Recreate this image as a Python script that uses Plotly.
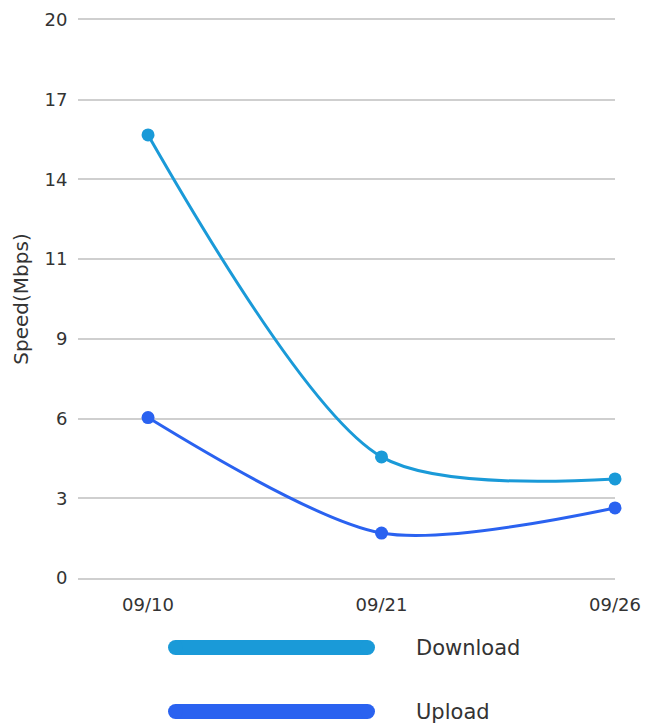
import plotly.graph_objects as go

dates = ["09/10", "09/21", "09/26"]
download = [15.88, 4.34, 3.55]
upload = [5.75, 1.61, 2.51]
y_tick_vals = [i * 20 / 7 for i in range(8)]
y_tick_text = ["0", "3", "6", "9", "11", "14", "17", "20"]
series_names = ["Download", "Upload"]

C_DOWN = "#1a9ad8"
C_UP = "#2a62f0"
FONT = "DejaVu Sans"
TXT = "#333333"
GRID = "#cfcfcf"

fig = go.Figure()
for name, vals, col in [(series_names[0], download, C_DOWN), (series_names[1], upload, C_UP)]:
    fig.add_trace(go.Scatter(
        x=dates, y=vals, name=name, mode="lines+markers",
        line=dict(color=col, width=3, shape="spline", smoothing=0.8),
        marker=dict(color=col, size=13),
        cliponaxis=False, showlegend=False,
    ))

# the page has an 8px body margin at left/top; the page is cropped at 649x725
OFF = 8
W, H = 649 - OFF, 725 - OFF
# plot area in page pixels: x 78..615, y 20..578
PL, PR, PT, PB = 78, 615, 20, 578
L, T = PL - OFF, PT - OFF
R = W - (PR - OFF)
B = H - (PB - OFF)
pw, ph = PR - PL, PB - PT

def px(x):
    return (x - PL) / pw

def py(y):
    return (PB - y) / ph

shapes = []
annotations = []
r = 7.5
x_left, x_right = 168, 375
for i, (name, col) in enumerate(zip(series_names, [C_DOWN, C_UP])):
    cy = 647.5 + i * 64
    shapes.append(dict(
        type="line", xref="paper", yref="paper",
        x0=px(x_left + r), x1=px(x_right - r), y0=py(cy), y1=py(cy),
        line=dict(color=col, width=2 * r),
    ))
    for cx in (x_left + r, x_right - r):
        shapes.append(dict(
            type="circle", xref="paper", yref="paper",
            x0=px(cx - r), x1=px(cx + r), y0=py(cy + r), y1=py(cy - r),
            fillcolor=col, line=dict(width=0),
        ))
    annotations.append(dict(
        text=name, xref="paper", yref="paper", x=px(414), y=py(cy),
        xanchor="left", yanchor="middle", showarrow=False,
        font=dict(family=FONT, size=21, color=TXT),
    ))

fig.update_layout(
    width=W, height=H,
    margin=dict(l=L, r=R, t=T, b=B, autoexpand=False),
    paper_bgcolor="white", plot_bgcolor="white",
    font=dict(family=FONT, color=TXT),
    shapes=shapes, annotations=annotations,
    xaxis=dict(
        type="category", range=[-0.3, 2.0], showgrid=False, zeroline=False,
        showline=True, mirror=True, linecolor=GRID, linewidth=1.5,
        ticks="outside", ticklen=10, tickcolor="rgba(0,0,0,0)",
        tickfont=dict(family=FONT, size=18, color=TXT), automargin=False,
    ),
    yaxis=dict(
        range=[0, 20], tickmode="array", tickvals=y_tick_vals, ticktext=y_tick_text,
        showgrid=True, gridcolor=GRID, gridwidth=1.5, zeroline=False,
        showline=False, ticks="outside", ticklen=6, tickcolor="rgba(0,0,0,0)",
        tickfont=dict(family=FONT, size=18, color=TXT), automargin=False,
        title=dict(text="Speed(Mbps)", font=dict(family=FONT, size=20, color=TXT), standoff=10),
    ),
)

fig.write_html("out.html")
